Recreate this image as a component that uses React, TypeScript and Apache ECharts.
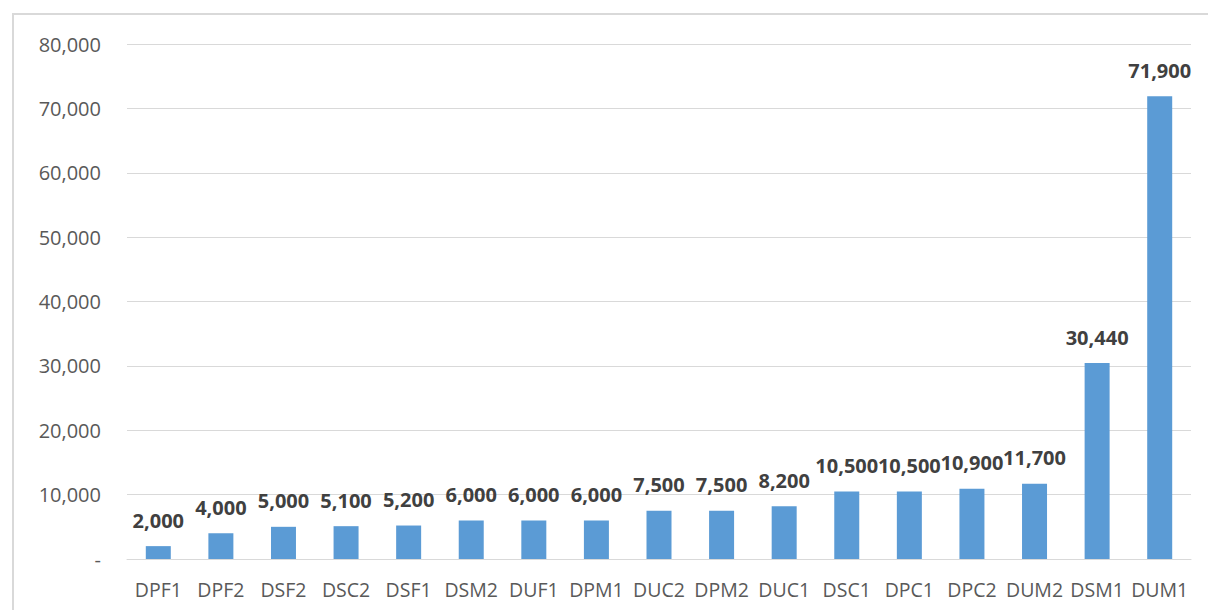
import React, { useEffect, useRef } from "react";
import * as echarts from "echarts";

const categories = ["DPF1","DPF2","DSF2","DSC2","DSF1","DSM2","DUF1","DPM1","DUC2","DPM2","DUC1","DSC1","DPC1","DPC2","DUM2","DSM1","DUM1"];
const values = [2000,4000,5000,5100,5200,6000,6000,6000,7500,7500,8200,10500,10500,10900,11700,30440,71900];
const yTicks = [0,10000,20000,30000,40000,50000,60000,70000,80000];

const fmt = (v: number) => (v === 0 ? "-" : v.toLocaleString("en-US"));

export default function App() {
  const ref = useRef<HTMLDivElement>(null);
  useEffect(() => {
    const chart = echarts.init(ref.current!, undefined, { renderer: "svg" });
    chart.setOption({
      animation: false,
      backgroundColor: "#ffffff",
      textStyle: { fontFamily: "Open Sans" },
      graphic: [
        {
          type: "rect",
          shape: { x: 13, y: 14, width: 1210, height: 610 },
          style: { fill: "none", stroke: "#d9d9d9", lineWidth: 2 },
          silent: true,
        },
      ],
      grid: { left: 127, right: 17, top: 44, bottom: 51, containLabel: false },
      xAxis: {
        type: "category",
        data: categories,
        axisLine: { lineStyle: { color: "#d9d9d9", width: 1 } },
        axisTick: { show: false },
        axisLabel: { color: "#595959", fontSize: 19.5, margin: 20, interval: 0 },
      },
      yAxis: {
        type: "value",
        min: 0,
        max: yTicks[yTicks.length - 1],
        interval: 10000,
        axisLine: { show: false },
        axisTick: { show: false },
        splitLine: { lineStyle: { color: "#d9d9d9", width: 1 } },
        axisLabel: { color: "#595959", fontSize: 20, margin: 26, formatter: (v: number) => fmt(v) },
      },
      series: [
        {
          type: "bar",
          data: values,
          barWidth: 25,
          itemStyle: { color: "#5b9bd5" },
          label: {
            show: true,
            position: "top",
            distance: 16,
            color: "#404040",
            fontSize: 20,
            fontWeight: "bold",
            formatter: (p: any) => fmt(p.value),
          },
        },
      ],
    });
    return () => chart.dispose();
  }, []);
  return (
    <div
      ref={ref}
      style={{ position: "fixed", left: 0, top: 0, width: 1208, height: 610 }}
    />
  );
}
